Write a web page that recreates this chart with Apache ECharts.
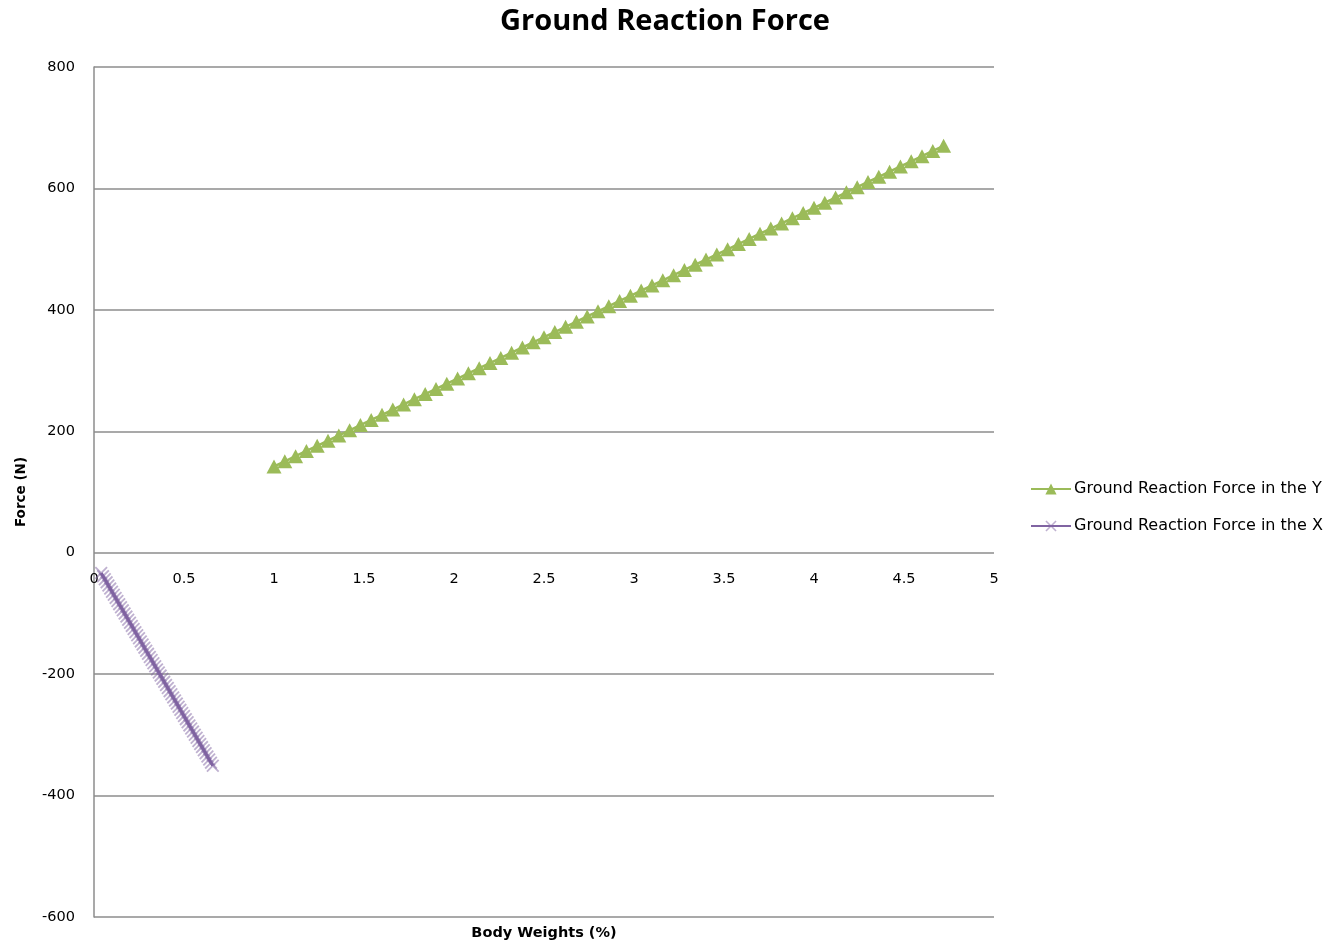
<!DOCTYPE html>
<html>
<head>
<meta charset="utf-8">
<script src="https://cdn.jsdelivr.net/npm/echarts@6/dist/echarts.min.js"></script>
<style>html,body{margin:0;padding:0;background:#fff}#c{width:1330px;height:944px}</style>
</head>
<body>
<div id="c"></div>
<script>
const yTicks = ['-600','-400','-200','0','200','400','600','800'];
const xTicks = ['0','0.5','1','1.5','2','2.5','3','3.5','4','4.5','5'];

const grfYx = [1.00,1.06,1.12,1.18,1.24,1.30,1.36,1.42,1.48,1.54,1.60,1.66,1.72,1.78,1.84,1.90,1.96,2.02,2.08,2.14,2.20,2.26,2.32,2.38,2.44,2.50,2.56,2.62,2.68,2.74,2.80,2.86,2.92,2.98,3.04,3.10,3.16,3.22,3.28,3.34,3.40,3.46,3.52,3.58,3.64,3.70,3.76,3.82,3.88,3.94,4.00,4.06,4.12,4.18,4.24,4.30,4.36,4.42,4.48,4.54,4.60,4.66,4.72];
const grfYy = [142,150.5,159,167.6,176.1,184.6,193.1,201.6,210.2,218.7,227.2,235.7,244.2,252.8,261.3,269.8,278.3,286.8,295.4,303.9,312.4,320.9,329.4,338,346.5,355,363.5,372,380.6,389.1,397.6,406.1,414.6,423.2,431.7,440.2,448.7,457.2,465.8,474.3,482.8,491.3,499.8,508.4,516.9,525.4,533.9,542.4,551,559.5,568,576.5,585,593.6,602.1,610.6,619.1,627.6,636.2,644.7,653.2,661.7,670.2];

const grfXx = [0.04,0.05,0.06,0.07,0.08,0.09,0.10,0.11,0.12,0.13,0.14,0.15,0.16,0.17,0.18,0.19,0.20,0.21,0.22,0.23,0.24,0.25,0.26,0.27,0.28,0.29,0.30,0.31,0.32,0.33,0.34,0.35,0.36,0.37,0.38,0.39,0.40,0.41,0.42,0.43,0.44,0.45,0.46,0.47,0.48,0.49,0.50,0.51,0.52,0.53,0.54,0.55,0.56,0.57,0.58,0.59,0.60,0.61,0.62,0.63,0.64,0.65,0.66];
const grfXy = [-33.5,-38.6,-43.7,-48.8,-54,-59.1,-64.2,-69.3,-74.4,-79.6,-84.7,-89.8,-94.9,-100,-105.2,-110.3,-115.4,-120.5,-125.6,-130.8,-135.9,-141,-146.1,-151.2,-156.4,-161.5,-166.6,-171.7,-176.8,-182,-187.1,-192.2,-197.3,-202.4,-207.6,-212.7,-217.8,-222.9,-228,-233.2,-238.3,-243.4,-248.5,-253.6,-258.8,-263.9,-269,-274.1,-279.2,-284.4,-289.5,-294.6,-299.7,-304.8,-310,-315.1,-320.2,-325.3,-330.4,-335.6,-340.7,-345.8,-350.9];

const seriesNames = ['Ground Reaction Force in the Y','Ground Reaction Force in the X'];
const titleText = 'Ground Reaction Force';
const xName = 'Body Weights (%)';
const yName = 'Force (N)';

const TFONT = '"Open Sans", "Noto Sans", sans-serif';
const FONT = '"DejaVu Sans", "Noto Sans", sans-serif';
const crossPath = 'path://M0,1L1,0L5,4L9,0L10,1L6,5L10,9L9,10L5,6L1,10L0,9L4,5Z';
const GRID = '#8c8c8c';

const chart = echarts.init(document.getElementById('c'));
chart.setOption({
  animation: false,
  backgroundColor: '#fff',
  title: {
    text: titleText, left: 'center', top: 2,
    textStyle: {fontFamily: TFONT, fontWeight: 'bold', fontSize: 29, color: '#000'}
  },
  grid: {left: 94, right: 336, top: 67, bottom: 27, containLabel: false},
  legend: {
    orient: 'vertical', left: 1025, top: 475, itemGap: 19,
    itemWidth: 40, itemHeight: 14,
    textStyle: {fontFamily: FONT, fontSize: 16, lineHeight: 18, color: '#000', padding: [0,0,0,-2]},
    data: seriesNames
  },
  xAxis: {
    type: 'value', min: 0, max: 5, interval: 0.5,
    axisLine: {show: false, onZero: false},
    axisTick: {show: false},
    splitLine: {show: false},
    axisLabel: {
      margin: 17, fontFamily: FONT, fontSize: 14.5, color: '#000',
      formatter: function (v) { const s = String(Math.round(v * 10) / 10); return xTicks.indexOf(s) >= 0 ? s : ''; }
    }
  },
  yAxis: {
    type: 'value', min: -600, max: 800, interval: 200,
    name: yName, nameLocation: 'middle', nameGap: 66, nameRotate: 90,
    nameTextStyle: {fontFamily: FONT, fontWeight: 'bold', fontSize: 13.5, color: '#000'},
    axisLine: {show: true, onZero: false, lineStyle: {color: GRID, width: 1.5}},
    axisTick: {show: false},
    splitLine: {show: true, lineStyle: {color: GRID, width: 1.5}},
    axisLabel: {
      margin: 19, fontFamily: FONT, fontSize: 14.5, color: '#000',
      formatter: function (v) { const s = String(v); return yTicks.indexOf(s) >= 0 ? s : ''; }
    }
  },
  series: [
    {
      name: seriesNames[0], type: 'line',
      data: grfYx.map((x, i) => [x, grfYy[i]]),
      symbol: 'triangle', symbolSize: [15, 14],
      lineStyle: {color: '#9BBB59', width: 2.5},
      itemStyle: {color: '#9BBB59'},
      z: 3
    },
    {
      name: seriesNames[1], type: 'line',
      data: grfXx.map((x, i) => [x, grfXy[i]]),
      symbol: crossPath, symbolSize: 13,
      lineStyle: {color: '#8064A2', width: 3},
      itemStyle: {color: 'rgba(128,100,162,0.5)'},
      z: 3
    }
  ]
});
// move the x-axis labels to the y = 0 level, using the library's own y scale
const rect = chart.getModel().getComponent('grid').coordinateSystem.getRect();
const yZero = chart.convertToPixel({yAxisIndex: 0}, 0);
chart.setOption({
  xAxis: {offset: yZero - (rect.y + rect.height)},
  graphic: [{type: 'text', x: rect.x + rect.width / 2, y: 933,
    style: {text: xName, font: 'bold 14.5px ' + FONT, fill: '#000', align: 'center', verticalAlign: 'middle'}}]
});
</script>
</body>
</html>
